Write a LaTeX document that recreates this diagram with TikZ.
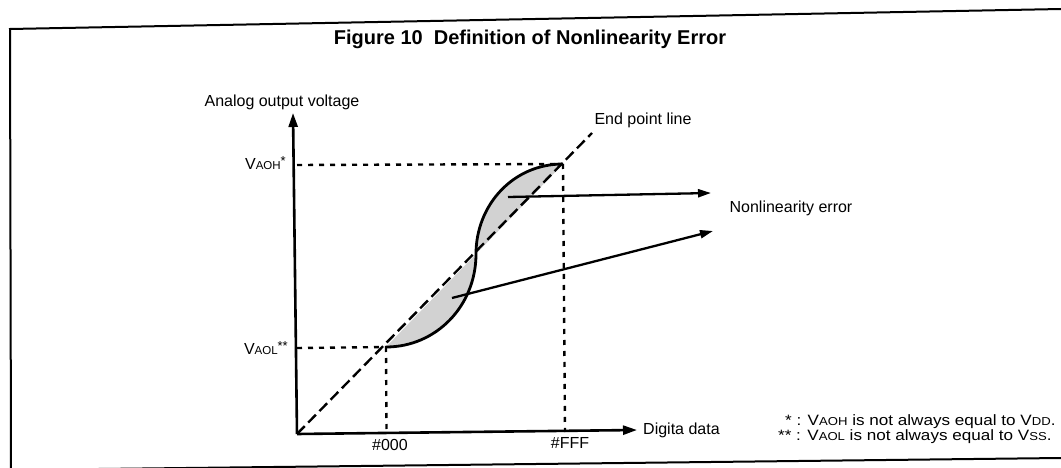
\documentclass[tikz,border=0pt]{standalone}
\usepackage{fontspec}
\usepackage{graphicx}
\setmainfont{Liberation Sans}
\usetikzlibrary{arrows.meta}
\newcommand{\smc}[1]{{\fontsize{11.5}{13}\selectfont #1}}
\newcommand{\smf}[1]{{\fontsize{13}{14}\selectfont #1}}
\begin{document}
\begin{tikzpicture}[x=1pt,y=-1pt,
  framel/.style={line width=2pt},
  axis/.style={line width=2.6pt,-{Triangle[length=14pt,width=9pt]}},
  guide/.style={line width=2.4pt,dash pattern=on 5pt off 6pt},
  endline/.style={line width=2.4pt,dash pattern=on 11pt off 5pt},
  curvel/.style={line width=2.8pt},
  shade/.style={fill=gray!35},
  ptr/.style={line width=2.3pt,-{Triangle[length=13pt,width=8pt]}},
  lbl/.style={font=\fontsize{16}{19}\selectfont,inner sep=0pt},
  note/.style={font=\fontsize{15}{18}\selectfont,inner sep=0pt,anchor=base west},
  title/.style={font=\fontsize{20}{24}\selectfont\bfseries,inner sep=0pt}]
\useasboundingbox (0,0) rectangle (1061,468);
% frame
\coordinate (TL) at (10,29);
\coordinate (TR) at (1061,9);
\coordinate (BL) at (11,470);
\coordinate (BR) at (1061,458);
\draw[framel] (TR) -- (TL) -- (BL) -- (BR);
\node[title] (ttl) at (530,39) {Figure 10\ \ Definition of Nonlinearity Error};
% key points
\coordinate (O) at (297,434);
\coordinate (L) at (386,347);
\coordinate (H) at (563,164);
\coordinate (C) at (476,254);
\coordinate (E) at (592,133);
\coordinate (Ytip) at (293,113);
\coordinate (Xtip) at (637,430);
\coordinate (Hy) at (297,165);
\coordinate (Ly) at (297,348);
\coordinate (Lx) at (386.5,433);
\coordinate (Hx) at (565,432);
% shaded error areas
\fill[shade] (L) .. controls (436,347) and (476,306) .. (C) -- cycle;
\fill[shade] (C) .. controls (476,205) and (513,164) .. (H) -- cycle;
% end point line
\draw[endline] (O) -- (E);
% guides
\draw[guide] (Hy) -- (H);
\draw[guide] (Ly) -- (L);
\draw[guide] (L) -- (Lx);
\draw[guide] (H) -- (Hx);
% curve
\draw[curvel] (L) .. controls (436,347) and (476,306) .. (C) .. controls (476,205) and (513,164) .. (H);
% axes
\draw[axis] (O) -- (Ytip);
\draw[axis] (O) -- (Xtip);
% pointers
\coordinate (A1) at (508,197);
\coordinate (N1) at (711,193);
\coordinate (A2) at (452,298);
\coordinate (N2) at (713,231);
\draw[ptr] (A1) -- (N1);
\draw[ptr] (A2) -- (N2);
% labels
\node[lbl] (yl) at (282,102) {Analog output voltage};
\node[lbl] (epl) at (643,120) {End point line};
\node[lbl] (nle) at (791,208) {Nonlinearity error};
\node[lbl,anchor=west] (xl) at (643,430) {Digita data};
\node[lbl,anchor=east] (vh) at (286,163) {V\smc{AOH}\raisebox{4pt}{\smf{*}}};
\node[lbl,anchor=east] (vl) at (288,348) {V\smc{AOL}\raisebox{4pt}{\smf{**}}};
\node[lbl] (x0) at (390,445) {\#000};
\node[lbl] (x1) at (570,443) {\#FFF};
\node[note] (n1) at (785,425) {\scalebox{1.14}[1]{* : V\smc{AOH} is not always equal to V\smc{DD}.}};
\node[note] (n2) at (778,440) {\scalebox{1.14}[1]{** : V\smc{AOL} is not always equal to V\smc{SS}.}};
\end{tikzpicture}
\end{document}
